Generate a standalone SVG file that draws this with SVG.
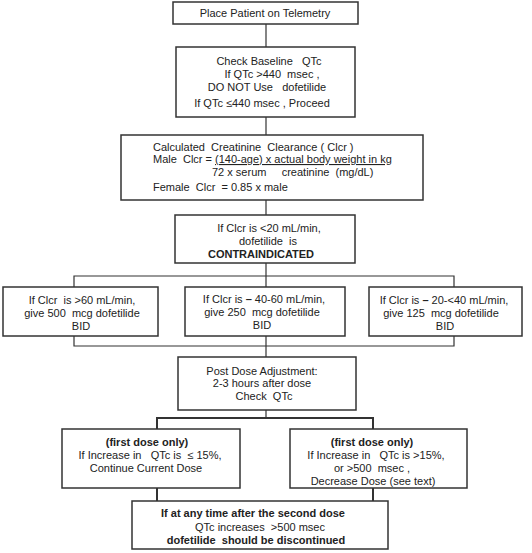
<svg xmlns="http://www.w3.org/2000/svg" width="532" height="553" viewBox="0 0 532 553">
<style>
.box{fill:#fff;stroke:#333;stroke-width:1.5}
.c{fill:none;stroke:#333;stroke-width:1.2}
.c2{fill:none;stroke:#333;stroke-width:2}
text{font-family:"Liberation Sans",Arial,sans-serif;font-size:11px;fill:#222;white-space:pre}
.m{text-anchor:middle}
.b{font-weight:bold}
</style>
<rect width="532" height="553" fill="#fff"/>
<g id="connectors">
<line class="c" x1="266" y1="24" x2="266" y2="47"/>
<line class="c" x1="266" y1="117" x2="266" y2="135"/>
<line class="c" x1="266" y1="200" x2="266" y2="215"/>
<line class="c" x1="266" y1="263" x2="266" y2="287"/>
<polyline class="c" points="74,287 74,276 454,276 454,287"/>
<polyline class="c" points="74,336 74,346 454,346 454,336"/>
<line class="c" x1="266" y1="336" x2="266" y2="357"/>
<line class="c" x1="266" y1="410" x2="266" y2="418"/>
<polyline class="c2" points="157,429 157,418 373,418 373,429"/>
<line class="c2" x1="157" y1="488" x2="157" y2="501"/>
<line class="c2" x1="373" y1="488" x2="373" y2="501"/>
</g>
<g id="n1">
<rect class="box" x="173" y="2" width="185" height="22"/>
<text class="m" x="265" y="17">Place Patient on Telemetry</text>
</g>
<g id="n2">
<rect class="box" x="176" y="47" width="179" height="70"/>
<text class="m" x="269" y="65">Check Baseline   QTc</text>
<text class="m" x="272" y="78">If QTc &gt;440  msec ,</text>
<text class="m" x="267" y="91">DO NOT Use   dofetilide</text>
<text class="m" x="262" y="107">If QTc ≤440 msec , Proceed</text>
</g>
<g id="n3">
<rect class="box" x="121" y="135" width="302" height="65"/>
<text x="153" y="151">Calculated  Creatinine  Clearance ( Clcr )</text>
<text x="153" y="163">Male  Clcr = <tspan text-decoration="underline">(140-age) x actual body weight in kg</tspan></text>
<text x="212" y="176">72 x serum     creatinine  (mg/dL)</text>
<text x="153" y="191">Female  Clcr  = 0.85 x male</text>
</g>
<g id="n4">
<rect class="box" x="175" y="215" width="180" height="48"/>
<text class="m" x="269" y="232">If Clcr is &lt;20 mL/min,</text>
<text class="m" x="268" y="245">dofetilide  is</text>
<text class="m b" x="261" y="258">CONTRAINDICATED</text>
</g>
<g id="n5">
<rect class="box" x="3" y="287" width="155" height="49"/>
<text class="m" x="82" y="304">If Clcr  is &gt;60 mL/min,</text>
<text class="m" x="82" y="317">give 500  mcg dofetilide</text>
<text class="m" x="81" y="330">BID</text>
</g>
<g id="n6">
<rect class="box" x="185" y="287" width="160" height="49"/>
<text class="m" x="264" y="303">If Clcr is <tspan class="b">–</tspan> 40-60 mL/min,</text>
<text class="m" x="262" y="316">give 250  mcg dofetilide</text>
<text class="m" x="262" y="329">BID</text>
</g>
<g id="n7">
<rect class="box" x="369" y="287" width="153" height="49"/>
<text class="m" x="444" y="304">If Clcr is <tspan class="b">–</tspan> 20-&lt;40 mL/min,</text>
<text class="m" x="441" y="317">give 125  mcg dofetilide</text>
<text class="m" x="445" y="330">BID</text>
</g>
<g id="n8">
<rect class="box" x="178" y="357" width="178" height="53"/>
<text class="m" x="262" y="375">Post Dose Adjustment:</text>
<text class="m" x="262" y="387">2-3 hours after dose</text>
<text class="m" x="264" y="400">Check  QTc</text>
</g>
<g id="n9">
<rect class="box" x="62" y="429" width="178" height="59"/>
<text class="m b" x="147" y="446">(first dose only)</text>
<text class="m" x="150" y="459">If Increase in   QTc is  ≤ 15%,</text>
<text class="m" x="146" y="472">Continue Current Dose</text>
</g>
<g id="n10">
<rect class="box" x="290" y="429" width="177" height="59"/>
<text class="m b" x="372" y="446">(first dose only)</text>
<text class="m" x="376" y="459">If Increase in   QTc is &gt;15%,</text>
<text class="m" x="372" y="472">or &gt;500  msec ,</text>
<text class="m" x="373" y="485">Decrease Dose (see text)</text>
</g>
<g id="n11">
<rect class="box" x="132" y="501" width="256" height="48"/>
<text class="m b" x="253" y="517">If at any time after the second dose</text>
<text class="m" x="260" y="531">QTc increases  &gt;500 msec</text>
<text class="m b" x="256" y="544">dofetilide  should be discontinued</text>
</g>
</svg>
